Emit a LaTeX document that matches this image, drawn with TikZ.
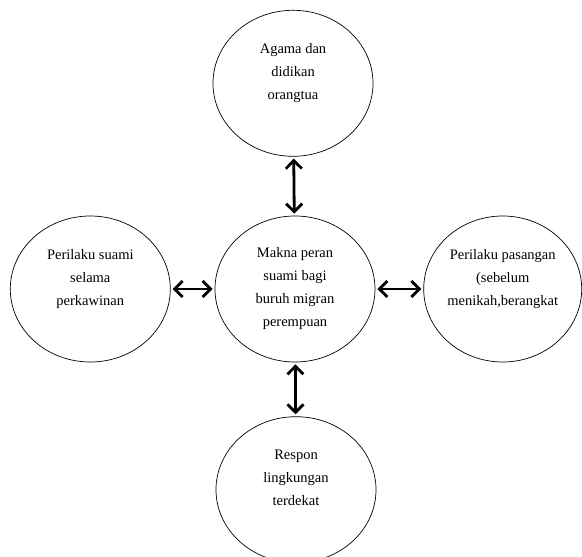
\documentclass[tikz,border=0pt]{standalone}
\usepackage{fontspec}
\setmainfont{Liberation Serif}
\usepackage{tikz}
\usetikzlibrary{arrows.meta,positioning,shapes.geometric}

\begin{document}
\begin{tikzpicture}
	[x=1pt,y=-1pt,<->,>={Straight Barb[length=8pt,width=16pt]},
		base node/.style={ellipse,draw,line width=0.7pt,minimum width=160pt,minimum height=146pt,inner sep=0pt,align=center,font=\fontsize{14.5}{23}\selectfont},
		link/.style={line width=2.8pt,shorten <=2pt,shorten >=2pt}]

	\useasboundingbox (0,0) rectangle (582,557);

	\node[base node] (makna) at (295,289) {Makna peran\\suami bagi\\buruh migran\\perempuan};
	\node[base node] [above=59pt of makna, xshift=-2pt] (agama) {Agama dan\\didikan\\orangtua\\\mbox{}};
	\node[base node] [left=44pt of makna] (suami) {Perilaku suami\\selama\\perkawinan\\\mbox{}};
	\node[base node] [right=48pt of makna, minimum width=158pt] (pasangan) {Perilaku pasangan\\(sebelum\\menikah,berangkat\\\mbox{}};
	\node[base node] [below=54pt of makna, xshift=1pt] (respon) {Respon\\lingkungan\\terdekat\\\mbox{}};
	% \node[base node] (lain) [below right=of makna] {};

	\path[link]
	(agama) edge (makna)
	(suami) edge (makna)
	(makna) edge (pasangan)
	(makna) edge (respon)
	;

\end{tikzpicture}
\end{document}
